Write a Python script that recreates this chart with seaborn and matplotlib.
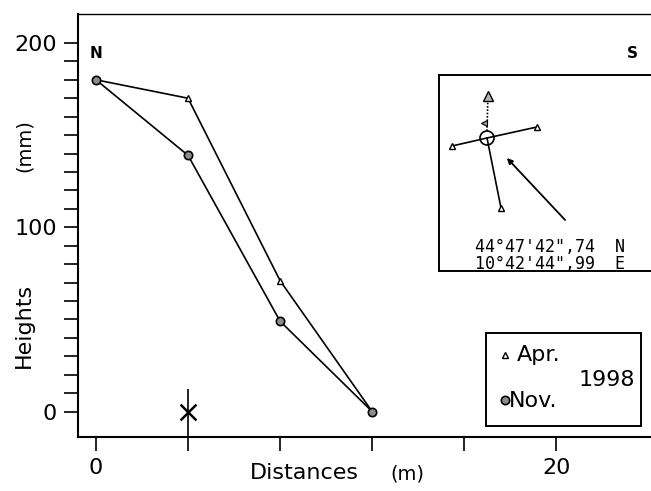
import matplotlib
matplotlib.use("Agg")
import matplotlib.pyplot as plt
import seaborn as sns
from matplotlib.patches import Circle, FancyArrowPatch

# Profile survey along the N-S transect
distances = [0, 4, 8, 12]
heights_apr = [180, 170, 71, 0]
heights_nov = [180, 139, 49, 0]
series_labels = ["Apr.", "Nov."]
year_label = "1998"

x_ticks = [0, 4, 8, 12, 16, 20]
x_tick_labels = ["0", "", "", "", "", "20"]
y_ticks = list(range(0, 201, 10))
y_tick_labels = [str(v) if v % 100 == 0 else "" for v in y_ticks]

benchmark_x = [4]
benchmark_y = [0]

coord_lines = ["44°47'42\",74  N", "10°42'44\",99  E"]

sns.set_style("ticks")
plt.rcParams["font.family"] = ["DejaVu Sans"]
plt.rcParams["text.color"] = "black"
plt.rcParams["axes.labelcolor"] = "black"

W, H = 651, 491
fig = plt.figure(figsize=(W / 100, H / 100), dpi=100)


def fig_rect(x0, y0, x1, y1):
    """Pixel box (top-left origin) -> figure fraction rectangle."""
    return [x0 / W, (H - y1) / H, (x1 - x0) / W, (y1 - y0) / H]


ax = fig.add_axes(fig_rect(78, 14, 653, 437))

sns.lineplot(x=distances, y=heights_apr, ax=ax, color="black", lw=1.2,
             marker="^", markersize=5, markerfacecolor="white",
             markeredgecolor="black", markeredgewidth=1.0)
sns.lineplot(x=distances, y=heights_nov, ax=ax, color="black", lw=1.2,
             marker="o", markersize=6, markerfacecolor="0.55",
             markeredgecolor="black", markeredgewidth=1.2)

# benchmark at the foot of the profile
ax.vlines(benchmark_x, -14, 12, color="black", lw=1.2, clip_on=False)
sns.scatterplot(x=benchmark_x, y=benchmark_y, ax=ax, marker="x", s=130,
                color="black", linewidth=1.8, zorder=5)

ax.set_xlim(-0.78, 24.2)
ax.set_ylim(-13.8, 215.7)
ax.set_xticks(x_ticks)
ax.set_xticklabels(x_tick_labels)
ax.set_yticks(y_ticks)
ax.set_yticklabels(y_tick_labels)
ax.tick_params(axis="both", direction="out", length=10, width=1.2,
               labelsize=16, colors="black", pad=5)

for side in ["left", "bottom"]:
    ax.spines[side].set_linewidth(1.5)
    ax.spines[side].set_color("black")
ax.spines["top"].set_linewidth(1.0)
ax.spines["top"].set_color("black")
ax.spines["right"].set_visible(False)

ax.text(0, 194, "N", ha="center", va="center", fontsize=11, fontweight="bold")
ax.text(23.3, 194, "S", ha="center", va="center", fontsize=11, fontweight="bold")

fig.text(24 / W, 1 - 325 / H, "Heights", rotation=90, ha="center", va="center", fontsize=16)
fig.text(24 / W, 1 - 146 / H, "(mm)", rotation=90, ha="center", va="center", fontsize=14)
fig.text(304 / W, 1 - 473 / H, "Distances", ha="center", va="center", fontsize=16)
fig.text(407 / W, 1 - 474 / H, "(m)", ha="center", va="center", fontsize=14)

# location inset with compass
ins = fig.add_axes(fig_rect(439, 75, 653, 271))
ins.set_xlim(439, 653)
ins.set_ylim(271, 75)
ins.set_xticks([])
ins.set_yticks([])
for sp in ins.spines.values():
    sp.set_linewidth(1.4)
    sp.set_color("black")
ins.spines["right"].set_visible(False)

cx, cy = 487, 138
ins.add_patch(Circle((cx, cy), 7, fill=False, lw=1.2, color="black"))
for ex, ey in [(452, 146), (537, 127), (501, 208)]:
    ins.plot([cx, ex], [cy, ey], color="black", lw=1.2)
    ins.plot([ex], [ey], marker="^", markersize=5, mfc="white", mec="black", mew=1.0)
ins.plot([cx, cx + 1], [cy - 7, 92], color="black", lw=1.2, ls=(0, (1, 1)))
ins.plot([cx + 1], [96], marker="^", markersize=7, mfc="0.7", mec="black", mew=1.0)
ins.plot([cx - 3], [123], marker="<", markersize=4, mfc="0.6", mec="black", mew=0.8)
ins.add_patch(FancyArrowPatch((567, 222), (505, 156), arrowstyle="-|>",
                              mutation_scale=8, lw=1.3, color="black"))
ins.text(475, 247, coord_lines[0], ha="left", va="center", fontsize=12,
         family="DejaVu Sans Mono")
ins.text(475, 264, coord_lines[1], ha="left", va="center", fontsize=12,
         family="DejaVu Sans Mono")

# legend box
leg = fig.add_axes(fig_rect(486, 333, 641, 426))
leg.set_xlim(486, 641)
leg.set_ylim(426, 333)
leg.set_xticks([])
leg.set_yticks([])
for sp in leg.spines.values():
    sp.set_linewidth(1.4)
    sp.set_color("black")
leg.plot([505], [355], marker="^", markersize=5, mfc="white", mec="black", mew=1.0)
leg.plot([505], [400], marker="o", markersize=6, mfc="0.55", mec="black", mew=1.2)
leg.text(517, 355, series_labels[0], ha="left", va="center", fontsize=16)
leg.text(509, 401, series_labels[1], ha="left", va="center", fontsize=16)
leg.text(607, 380, year_label, ha="center", va="center", fontsize=16)

fig.savefig("out.png", dpi=100)
